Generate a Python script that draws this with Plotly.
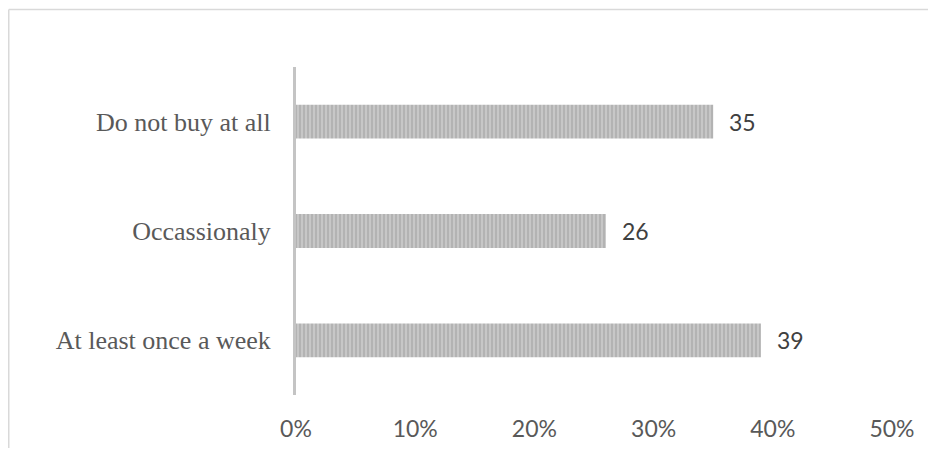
import plotly.graph_objects as go

categories = ["At least once a week", "Occassionaly", "Do not buy at all"]
values = [39, 26, 35]
tick_vals = [0, 10, 20, 30, 40, 50]
tick_labels = ["0%", "10%", "20%", "30%", "40%", "50%"]

# the page places the figure at (8, 8) because of the default body margin
W, H = 920, 440
L, R, T, B = 288, 36, 59, 53
pw = W - L - R
ph = H - T - B

fig = go.Figure()
fig.add_trace(go.Bar(
    x=values, y=categories, orientation="h",
    marker=dict(
        color="#b5b5b5",
        line=dict(width=0),
        pattern=dict(shape="|", size=4, solidity=0.45, fgcolor="#e0e0e0", bgcolor="#b3b3b3"),
    ),
    hoverinfo="skip",
))

for v, c in zip(values, categories):
    fig.add_annotation(x=v, y=c, text=str(v), showarrow=False, xanchor="left",
                       xshift=14, font=dict(family="Lato", size=23, color="#404040"))

# outer chart border: only top and left edges fall inside the picture
bx0 = (0.75 - L) / pw
by1 = 1 + (T - 1.5) / ph
fig.add_shape(type="line", xref="paper", yref="paper", x0=bx0, x1=(W + 20 - L) / pw, y0=by1, y1=by1,
              line=dict(color="#d9d9d9", width=1.5), layer="below")
fig.add_shape(type="line", xref="paper", yref="paper", x0=bx0, x1=bx0, y0=-(B + 20) / ph, y1=by1,
              line=dict(color="#d9d9d9", width=1.5), layer="below")

fig.update_layout(
    width=W, height=H,
    margin=dict(l=L, r=R, t=T, b=B, pad=0, autoexpand=False),
    paper_bgcolor="white", plot_bgcolor="white",
    showlegend=False,
    bargap=0.69,
    xaxis=dict(range=[0, 50], tickvals=tick_vals, ticktext=tick_labels, automargin=False,
               showgrid=False, zeroline=False, showline=False,
               ticks="outside", ticklen=13, tickcolor="rgba(0,0,0,0)",
               tickfont=dict(family="Lato", size=23, color="#595959")),
    yaxis=dict(categoryorder="array", categoryarray=categories, automargin=False,
               showgrid=False, zeroline=False, showline=True,
               linecolor="#c4c4c4", linewidth=3,
               ticks="outside", ticklen=17, tickcolor="rgba(0,0,0,0)",
               tickfont=dict(family="Liberation Serif", size=26, color="#595959")),
)

fig.write_html("out.html")
